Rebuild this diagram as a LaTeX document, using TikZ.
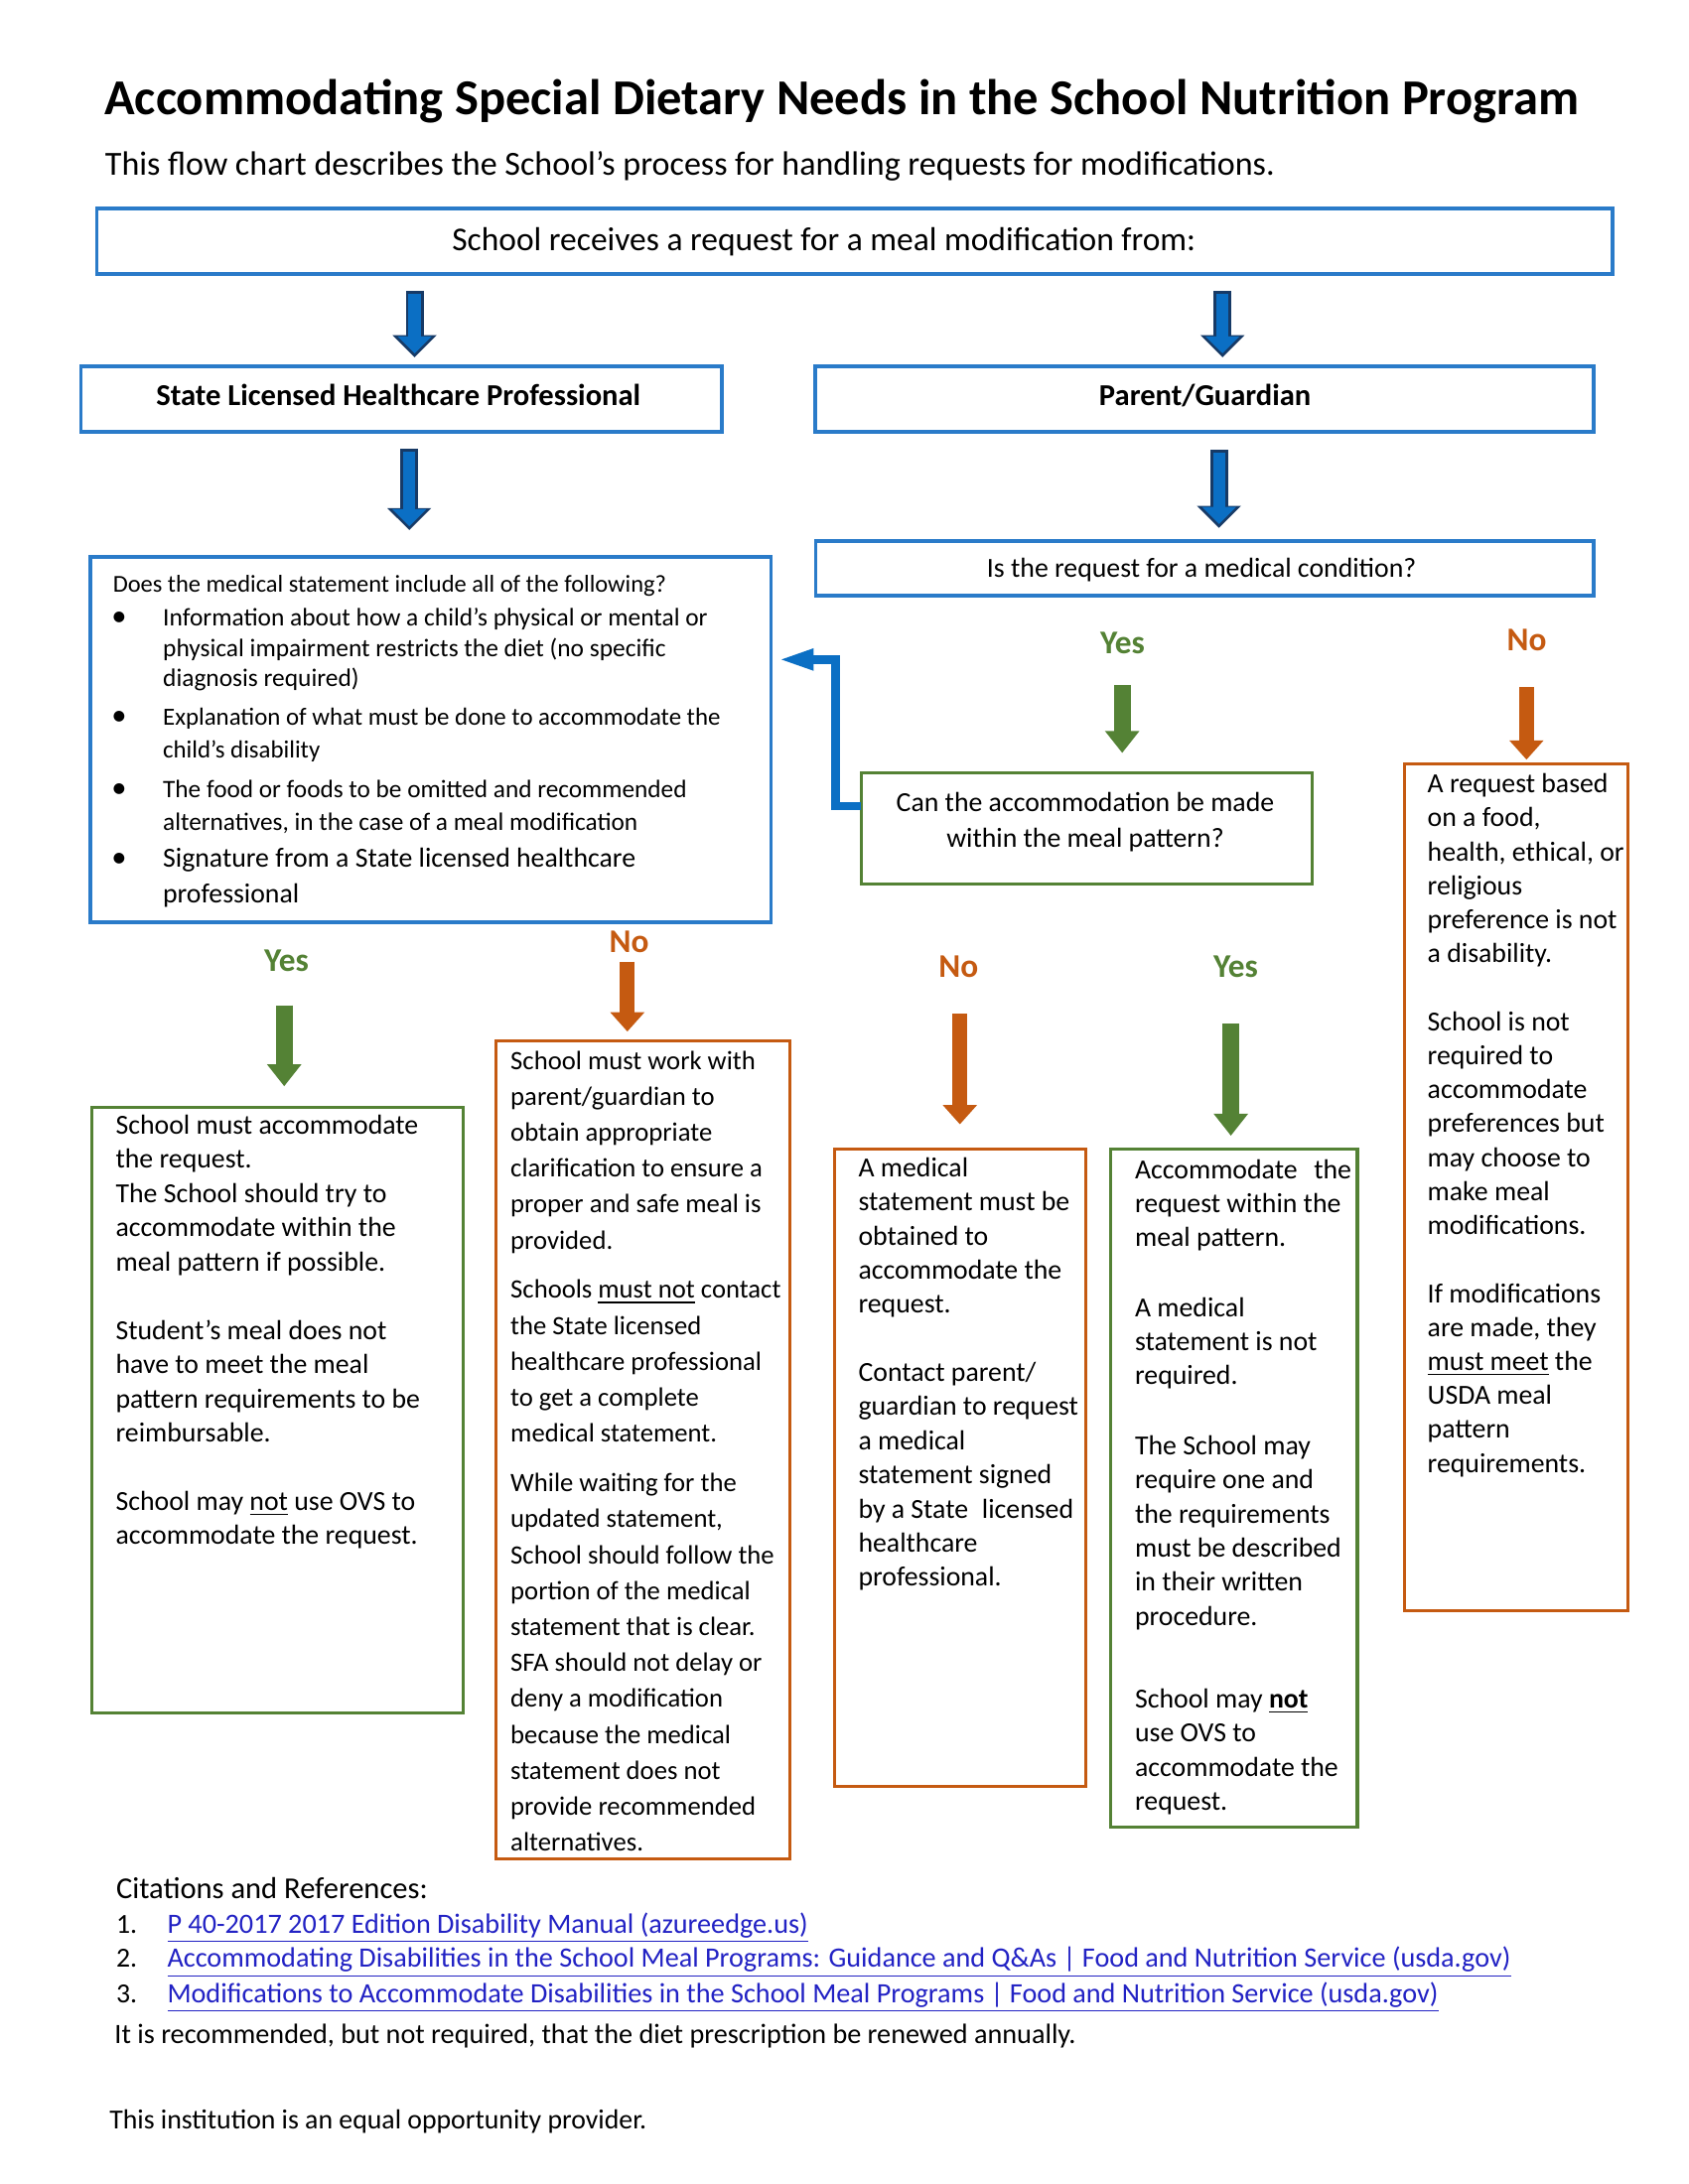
\documentclass[tikz,border=0pt]{standalone}
\usepackage{fontspec}
\setmainfont{Carlito}
\usetikzlibrary{arrows.meta,fit}
\definecolor{boxblue}{HTML}{2A7BC9}
\definecolor{arrowblue}{HTML}{0B6FC4}
\definecolor{arrowdark}{HTML}{173A66}
\definecolor{ggreen}{HTML}{548235}
\definecolor{oorange}{HTML}{C55A11}
\definecolor{linkblue}{HTML}{2222C4}
\newcommand{\boxtxt}[4]{\parbox[t]{#1}{\fontsize{#2}{#3}\selectfont\raggedright #4}}
\begin{document}
\begin{tikzpicture}[x=0.505pt,y=-0.505pt,
  bluebox/.style={draw=boxblue, line width=1.3pt, inner sep=0pt, outer sep=0pt, rectangle},
  greenbox/.style={draw=ggreen, line width=1.1pt, inner sep=0pt, outer sep=0pt, rectangle},
  orangebox/.style={draw=oorange, line width=1.1pt, inner sep=0pt, outer sep=0pt, rectangle},
  txt/.style={anchor=base west, inner sep=0pt, outer sep=0pt, text=black},
  ctxt/.style={anchor=base, inner sep=0pt, outer sep=0pt, text=black},
  blueout/.style={draw=arrowdark, line width=6.5pt, -{Triangle[length=8pt,width=15.5pt]}},
  bluein/.style={draw=arrowblue, line width=4.4pt, -{Triangle[length=6.2pt,width=12pt]}, shorten >=1.4pt, shorten <=1pt},
  greenarrow/.style={draw=ggreen, line width=6pt, -{Triangle[length=8pt,width=12pt]}},
  orangearrow/.style={draw=oorange, line width=5.5pt, -{Triangle[length=7pt,width=12pt]}},
  elbowarrow/.style={draw=arrowblue, line width=3.2pt, -{Triangle[length=13pt,width=7pt]}},
  yeslab/.style={anchor=base, inner sep=0pt, text=ggreen, font=\fontsize{12}{14}\selectfont\bfseries},
  nolab/.style={anchor=base, inner sep=0pt, text=oorange, font=\fontsize{12}{14}\selectfont\bfseries},
  linktxt/.style={anchor=base west, inner sep=0pt, text=linkblue, font=\fontsize{10.15}{12}\selectfont},
]
\fill[white] (0,0) rectangle (1212,1568);
\useasboundingbox (0,0) rectangle (1212,1568);

% heading
\node[txt, font=\fontsize{18.2}{22}\selectfont\bfseries] (title) at (75,82) {Accommodating Special Dietary Needs in the School Nutrition Program};
\node[txt, font=\fontsize{12.25}{14}\selectfont] (subtitle) at (75.5,126) {This flow chart describes the School’s process for handling requests for modifications.};

% top boxes
\node[bluebox, fit={(69.6,149.5)(1157.3,196.5)}] (receive) {};
\node[ctxt, font=\fontsize{12.05}{14}\selectfont] (receivetxt) at (591.4,180) {School receives a request for a meal modification from:};

\node[bluebox, fit={(58,262.8)(518,310.2)}] (slhp) {};
\node[ctxt, font=\fontsize{11}{13}\selectfont\bfseries] (slhptxt) at (286,291.4) {State Licensed Healthcare Professional};
\node[bluebox, fit={(585,262.8)(1144,310.2)}] (parent) {};
\node[ctxt, font=\fontsize{11}{13}\selectfont\bfseries] (parenttxt) at (865,291.4) {Parent/Guardian};

% blue arrows
\coordinate (b1s) at (297.6,208.7); \coordinate (b1e) at (297.6,256.5);
\coordinate (b2s) at (877.5,208.7); \coordinate (b2e) at (877.5,256.5);
\coordinate (b3s) at (293.8,322);   \coordinate (b3e) at (293.8,380.6);
\coordinate (b4s) at (875,323);     \coordinate (b4e) at (875,379);
\foreach \s/\e in {b1s/b1e,b2s/b2e,b3s/b3e,b4s/b4e}{
  \draw[blueout] (\s) -- (\e);
  \draw[bluein] (\s) -- (\e);
}

% medical statement box
\node[bluebox, fit={(64.9,399.7)(553.3,661.9)}] (med) {};
\node[txt, font=\fontsize{8.8}{11}\selectfont] (medq) at (81.1,424.9) {Does the medical statement include all of the following?};
\node[ctxt, font=\fontsize{11}{13}\selectfont] (bul1) at (85.5,449.2) {•};
\node[ctxt, font=\fontsize{11}{13}\selectfont] (bul2) at (85.5,520.5) {•};
\node[ctxt, font=\fontsize{11}{13}\selectfont] (bul3) at (85.5,572.7) {•};
\node[ctxt, font=\fontsize{11}{13}\selectfont] (bul4) at (85.5,622.6) {•};
\node[txt] (med1) at (117,449.2) {\boxtxt{240pt}{9.15}{11.1pt}{Information about how a child’s physical or mental or\\physical impairment restricts the diet (no specific\\diagnosis required)}};
\node[txt] (med2) at (117,520.5) {\boxtxt{240pt}{8.95}{12pt}{Explanation of what must be done to accommodate the\\child’s disability}};
\node[txt] (med3) at (117,572.7) {\boxtxt{240pt}{9.1}{12pt}{The food or foods to be omitted and recommended\\alternatives, in the case of a meal modification}};
\node[txt] (med4) at (117,622.6) {\boxtxt{240pt}{10}{13.1pt}{Signature from a State licensed healthcare\\professional}};

% medical condition question
\node[bluebox, fit={(585.4,388.6)(1144,427.8)}] (medcond) {};
\node[ctxt, font=\fontsize{10}{12}\selectfont] (medcondtxt) at (862.5,414.7) {Is the request for a medical condition?};

\node[yeslab] (yes1) at (805.7,469.4) {Yes};
\node[nolab] (no1) at (1095.9,467) {No};
\coordinate (g1s) at (805.5,491.9); \coordinate (g1e) at (805.5,540.6);
\coordinate (o1s) at (1095.7,493.3); \coordinate (o1e) at (1095.7,545.4);
\draw[greenarrow] (g1s) -- (g1e);
\draw[orangearrow] (o1s) -- (o1e);

% can the accommodation be made
\node[greenbox, fit={(618,554.9)(941.8,635)}] (can) {};
\node[ctxt] (cantxt) at (779,582.3) {\parbox[t]{200pt}{\fontsize{10}{13.2pt}\selectfont\centering Can the accommodation be made\\within the meal pattern?}};

% elbow arrow back to medical statement
\coordinate (elbowtip) at (558.3,473.5);
\draw[elbowarrow] (can.west |- 0,578.7) -- (600,578.7) -- (600,473.5) -- (elbowtip);

% right "No" box
\node[orangebox, fit={(1008.3,548.5)(1168.6,1156.4)}] (pref) {};
\node[txt] (preftxt) at (1024.7,569.2) {\boxtxt{100pt}{10}{12.32pt}{A request based\\on a food,\\health, ethical, or\\religious\\preference is not\\a disability.\\[12.32pt]School is not\\required to\\accommodate\\preferences but\\may choose to\\make meal\\modifications.\\[12.32pt]If modifications\\are made, they\\\underline{must meet} the\\USDA meal\\pattern\\requirements.}};

% lower labels and arrows
\node[yeslab] (yes2) at (205.6,697.6) {Yes};
\node[nolab] (no2) at (451.6,684.2) {No};
\node[nolab] (no3) at (688,701.5) {No};
\node[yeslab] (yes3) at (887,701.5) {Yes};
\coordinate (g2s) at (204,721.7); \coordinate (g2e) at (204,779.9);
\coordinate (o2s) at (450.3,690.3); \coordinate (o2e) at (450.3,740.6);
\coordinate (o3s) at (689,728); \coordinate (o3e) at (689,807.2);
\coordinate (g3s) at (883.5,735); \coordinate (g3e) at (883.5,815.4);
\draw[greenarrow] (g2s) -- (g2e);
\draw[orangearrow] (o2s) -- (o2e);
\draw[orangearrow] (o3s) -- (o3e);
\draw[greenarrow] (g3s) -- (g3e);

% box A
\node[greenbox, fit={(65.7,794.7)(332.8,1229.6)}] (boxa) {};
\node[txt] (boxatxt) at (83.1,814.3) {\boxtxt{160pt}{10}{12.4pt}{School must accommodate\\the request.\\The School should try to\\accommodate within the\\meal pattern if possible.\\[12.4pt]Student’s meal does not\\have to meet the meal\\pattern requirements to be\\reimbursable.\\[12.4pt]School may \underline{not} use OVS to\\accommodate the request.}};

% box B
\node[orangebox, fit={(355.7,747.3)(567,1334.6)}] (boxb) {};
\node[txt] (boxbtxt) at (366.5,767.6) {\boxtxt{120pt}{9.6}{13.03pt}{School must work with\\parent/guardian to\\obtain appropriate\\clarification to ensure a\\proper and safe meal is\\provided.\\[4.95pt]Schools \underline{must not} contact\\the State licensed\\healthcare professional\\to get a complete\\medical statement.\\[4.95pt]While waiting for the\\updated statement,\\School should follow the\\portion of the medical\\statement that is clear.\\SFA should not delay or\\deny a modification\\because the medical\\statement does not\\provide recommended\\alternatives.}};

% box C
\node[orangebox, fit={(599,825.2)(779.1,1282.5)}] (boxc) {};
\node[txt] (boxctxt) at (616.2,844.8) {\boxtxt{110pt}{10}{12.37pt}{A medical\\statement must be\\obtained to\\accommodate the\\request.\\[12.37pt]Contact parent/\\guardian to request\\a medical\\statement signed\\by a State\hspace{0.5em}licensed\\healthcare\\professional.}};

% box D
\node[greenbox, fit={(797.5,825.2)(974.3,1311.5)}] (boxd) {};
\node[txt] (boxdtxt) at (814.7,846) {\boxtxt{110pt}{10}{12.37pt}{Accommodate\hspace{0.6em}the\\request within the\\meal pattern.\\[13pt]A medical\\statement is not\\required.\\[13pt]The School may\\require one and\\the requirements\\must be described\\in their written\\procedure.\\[17.5pt]School may \underline{\textbf{not}}\\use OVS to\\accommodate the\\request.}};

% citations
\node[txt, font=\fontsize{11}{13}\selectfont] (cit) at (83.4,1362.9) {Citations and References:};
\node[txt, font=\fontsize{10}{12}\selectfont] (n1) at (83.4,1387.7) {1.};
\node[txt, font=\fontsize{10}{12}\selectfont] (n2) at (83.4,1412.2) {2.};
\node[txt, font=\fontsize{10}{12}\selectfont] (n3) at (83.4,1437.7) {3.};
\node[linktxt] (l1) at (119.7,1387.7) {\underline{P 40-2017 2017 Edition Disability Manual (azureedge.us)}};
\node[linktxt] (l2) at (119.7,1412.2) {\underline{Accommodating Disabilities in the School Meal Programs: Guidance and Q\&As \textbar{} Food and Nutrition Service (usda.gov)}};
\node[linktxt] (l3) at (119.7,1437.7) {\underline{Modifications to Accommodate Disabilities in the School Meal Programs \textbar{} Food and Nutrition Service (usda.gov)}};
\node[txt, font=\fontsize{10.15}{12}\selectfont] (renew) at (82.3,1467.3) {It is recommended, but not required, that the diet prescription be renewed annually.};
\node[txt, font=\fontsize{10}{12}\selectfont] (equal) at (78.6,1528.7) {This institution is an equal opportunity provider.};
\end{tikzpicture}
\end{document}
